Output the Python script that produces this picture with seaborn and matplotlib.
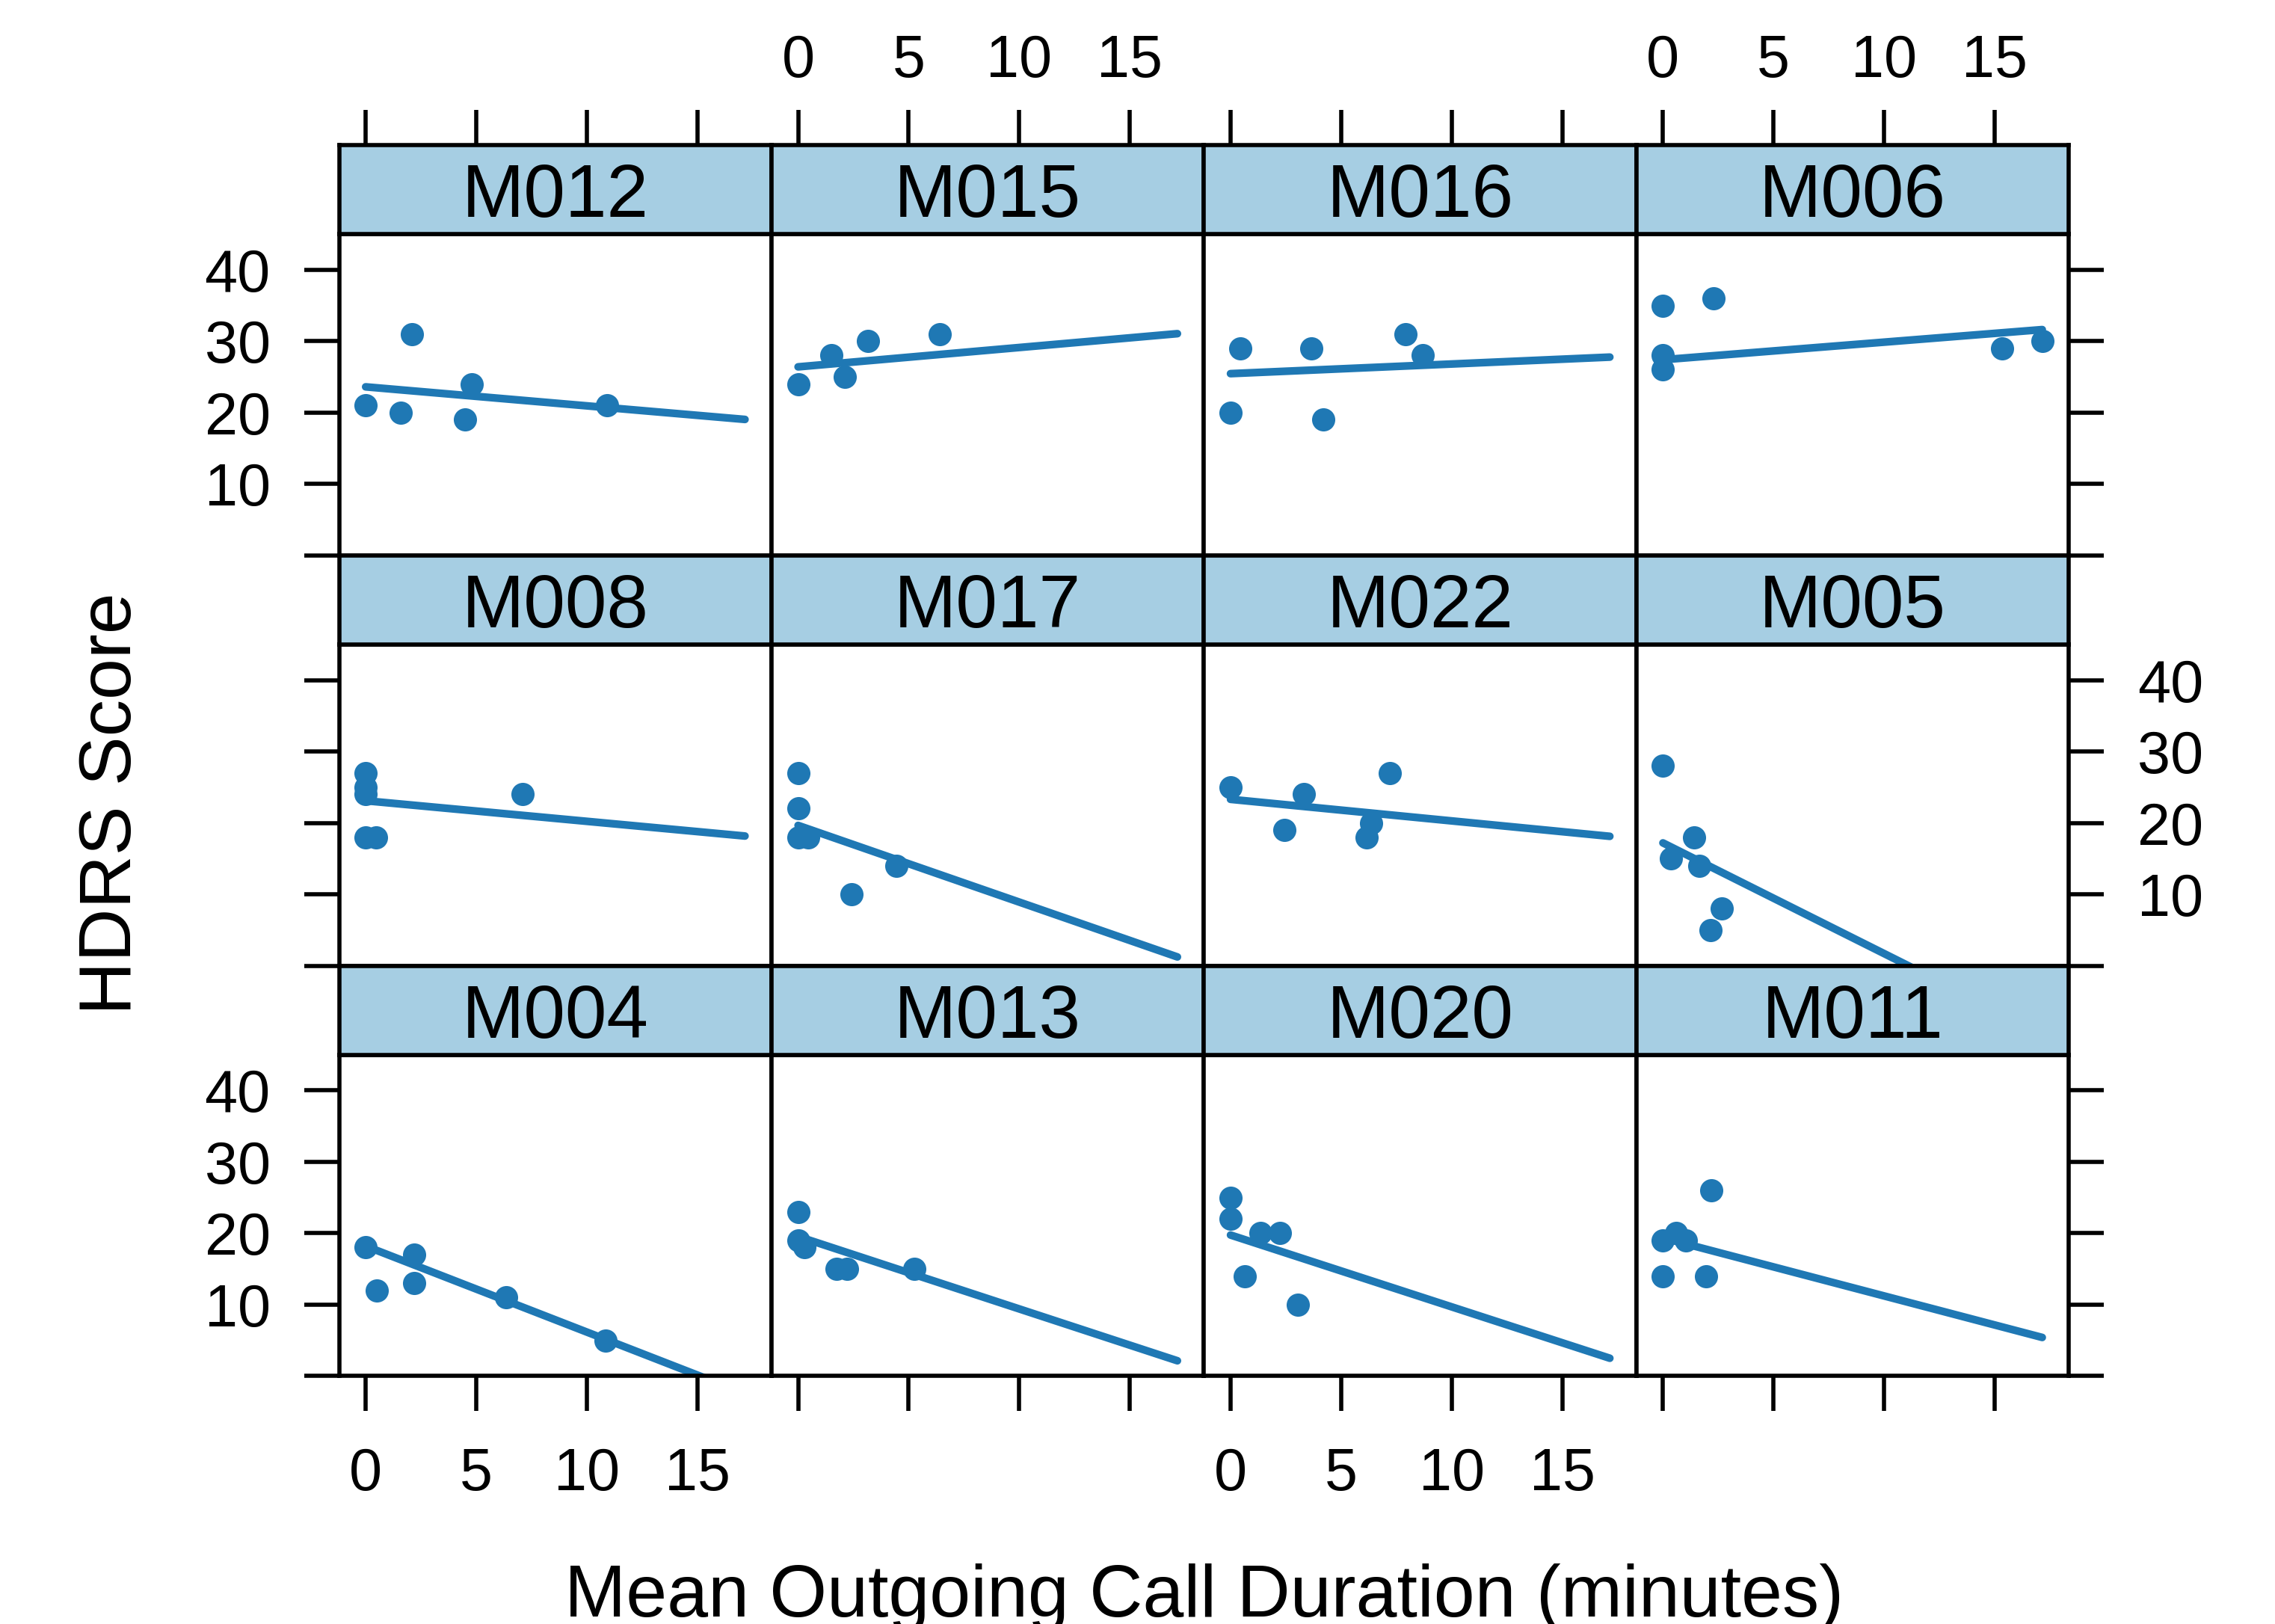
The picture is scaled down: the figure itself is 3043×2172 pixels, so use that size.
import numpy as np
import pandas as pd
import matplotlib
matplotlib.use("Agg")
import matplotlib.pyplot as plt
import seaborn as sns

# subjects in panel order (left to right, top to bottom)
subjects = ["M012", "M015", "M016", "M006",
            "M008", "M017", "M022", "M005",
            "M004", "M013", "M020", "M011"]

# mean outgoing call duration (minutes) per observation
durations = {
    "M012": [0, 2.1, 1.6, 4.8, 4.5, 10.9],
    "M015": [0, 1.5, 2.1, 3.15, 6.4],
    "M016": [0.45, 3.65, 7.9, 8.7, 0, 4.2],
    "M006": [0, 2.3, 0, 0, 15.35, 17.15],
    "M008": [0, 0, 0, 0, 0.47, 7.1],
    "M017": [0, 0, 0, 0.45, 4.45, 2.4],
    "M022": [0, 3.3, 2.45, 7.2, 6.35, 6.15],
    "M005": [0, 1.4, 0.35, 1.65, 2.65, 2.15],
    "M004": [0, 2.2, 0.5, 2.2, 6.35, 10.85],
    "M013": [0, 0, 0.3, 1.75, 2.2, 5.25],
    "M020": [0, 0, 1.35, 2.25, 0.65, 3.05],
    "M011": [2.2, 0, 0.6, 1.05, 0, 1.95],
}
# HDRS scores per observation
scores = {
    "M012": [21, 31, 20, 24, 19, 21],
    "M015": [24, 28, 25, 30, 31],
    "M016": [29, 29, 31, 28, 20, 19],
    "M006": [35, 36, 28, 26, 29, 30],
    "M008": [27, 25, 24, 18, 18, 24],
    "M017": [27, 22, 18, 18, 14, 10],
    "M022": [25, 24, 19, 27, 20, 18],
    "M005": [28, 18, 15, 14, 8, 5],
    "M004": [18, 17, 12, 13, 11, 5],
    "M013": [23, 19, 18, 15, 15, 15],
    "M020": [25, 22, 20, 20, 14, 10],
    "M011": [26, 19, 20, 19, 14, 14],
}
# fitted lines per subject (intercept, slope)
intercepts = [23.6, 26.4, 25.45, 27.4, 23.1, 19.65, 23.3, 17.2, 18.2, 19.55, 19.75, 19.35]
slopes = [-0.266, 0.271, 0.135, 0.246, -0.288, -1.074, -0.302, -1.55, -1.204, -1.015, -1.006, -0.813]

xticks = [0, 5, 10, 15]
yticks = [0, 10, 20, 30, 40]
yticklabels = ["", "10", "20", "30", "40"]

rows = []
for s in subjects:
    for x, y in zip(durations[s], scores[s]):
        rows.append({"subject": s, "duration": x, "hdrs": y})
df = pd.DataFrame(rows)

sns.set_theme(style="ticks", rc={"axes.edgecolor": "black", "xtick.color": "black",
                                 "ytick.color": "black", "text.color": "black"})
plt.rcParams["font.family"] = ["Liberation Sans", "DejaVu Sans"]

strip_col = "#a6cee3"
dark = "#1f78b4"
lw = 2.0

W, H = 3043, 2172
fig = plt.figure(figsize=(W / 200, H / 200), dpi=200)

def frac(l, t, w, h):
    return [l / W, 1 - (t + h) / H, w / W, h / H]

col_left, col_w = 453.6, 578.4
row_top, strip_h, panel_h = 194.0, 119.0, 429.8

xmin, xmax = df["duration"].min(), df["duration"].max()
pad = 0.07 * (xmax - xmin)
xlim = (xmin - pad, xmax + pad)
ylim = (0, 45)
tick_len = 16.9
fs = 28.5

for i, s in enumerate(subjects):
    r, c = divmod(i, 4)
    left = col_left + c * col_w
    top = row_top + r * (strip_h + panel_h)

    ax = fig.add_axes(frac(left, top + strip_h, col_w, panel_h))
    sub = df[df["subject"] == s]
    line_df = pd.DataFrame({"duration": [xmin, xmax]})
    line_df["hdrs"] = intercepts[i] + slopes[i] * line_df["duration"]
    sns.lineplot(data=line_df, x="duration", y="hdrs", ax=ax, color=dark,
                 solid_capstyle="round", zorder=2)
    for ln in ax.lines:
        ln.set_linewidth(3.7)
    sns.scatterplot(data=sub, x="duration", y="hdrs", ax=ax, color=dark,
                    s=125, linewidth=0, zorder=3)
    ax.set_xlim(xlim)
    ax.set_ylim(ylim)
    ax.set_xlabel("")
    ax.set_ylabel("")
    ax.set_xticks(xticks)
    ax.set_yticks(yticks)
    ax.set_yticklabels(yticklabels)
    for sp in ax.spines.values():
        sp.set_visible(True)
        sp.set_linewidth(lw)
    ax.tick_params(axis="x", direction="out", length=tick_len, width=lw,
                   labelsize=fs, pad=17.0, top=False, labeltop=False,
                   bottom=(r == 2), labelbottom=(r == 2 and c in (0, 2)))
    ax.tick_params(axis="y", direction="out", length=tick_len, width=lw,
                   labelsize=fs, pad=16.2,
                   left=(c == 0), labelleft=(c == 0 and r in (0, 2)),
                   right=(c == 3), labelright=(c == 3 and r == 1))

    sax = fig.add_axes(frac(left, top, col_w, strip_h))
    sax.set_facecolor(strip_col)
    sax.set_xlim(xlim)
    sax.set_ylim(0, 1)
    sax.set_yticks([])
    sax.set_xticks(xticks)
    for sp in sax.spines.values():
        sp.set_visible(True)
        sp.set_linewidth(lw)
    sax.tick_params(axis="x", direction="out", length=tick_len, width=lw,
                    labelsize=fs, pad=9.7, bottom=False, labelbottom=False,
                    top=(r == 0), labeltop=(r == 0 and c in (1, 3)))
    sax.text(0.5, 0.5, s, transform=sax.transAxes, ha="center", va="center_baseline",
             fontsize=36)

fig.text(1611 / W, (H - 2162) / H, "Mean Outgoing Call Duration (minutes)",
         ha="center", va="baseline", fontsize=35.5)
fig.text(150 / W, 1 - 1075 / H, "HDRS Score", rotation=90,
         ha="center", va="center", fontsize=35.5)

fig.savefig("out.png", dpi=200, facecolor="white")
